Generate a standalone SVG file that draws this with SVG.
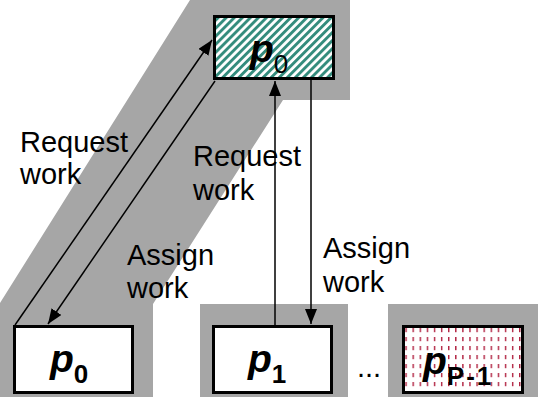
<svg xmlns="http://www.w3.org/2000/svg" width="538" height="416" viewBox="0 0 538 416">
<style>
.bg{fill:#a6a6a6;stroke:none}
.box{stroke:#000;stroke-width:3}
.lbl{font-family:"Liberation Sans",Arial,sans-serif;font-size:29px;fill:#000}
.pn{font-family:"Liberation Sans",Arial,sans-serif;font-size:39px;font-weight:bold;font-style:italic;fill:#000}
.sub{font-size:26px;font-style:normal}
.conn{stroke:#000;stroke-width:1.5;fill:none;marker-end:url(#ah)}
</style>
<defs>
<pattern id="stripes" patternUnits="userSpaceOnUse" width="5.7" height="10" patternTransform="rotate(45)">
<rect width="5.7" height="10" fill="#fff"/>
<rect width="2.9" height="10" fill="#348c7d"/>
</pattern>
<pattern id="dashes" patternUnits="userSpaceOnUse" x="405.4" y="328" width="7.1" height="9">
<rect width="7.1" height="9" fill="#fff"/>
<rect x="0" y="0" width="1.4" height="4.2" fill="#b0203f"/>
</pattern>
<marker id="ah" markerUnits="userSpaceOnUse" markerWidth="15" markerHeight="12" refX="15" refY="6" orient="auto">
<path d="M0,0 L15,6 L0,12 Z" fill="#000"/>
</marker>
</defs>
<g id="shading">
<polygon class="bg" points="190,0 350,0 350,100 283,100 153,304 153,397 0,397 0,303"/>
<rect class="bg" x="200" y="304" width="148" height="93"/>
<rect class="bg" x="388" y="304" width="150" height="93"/>
</g>
<g id="node-top-p0">
<rect class="box" x="214.5" y="16.5" width="119" height="62" fill="url(#stripes)"/>
<text class="pn" x="250" y="62">p<tspan class="sub" font-weight="normal" y="73">0</tspan></text>
</g>
<g id="node-p0">
<rect class="box" x="14.5" y="326.5" width="118" height="66" fill="#fff"/>
<text class="pn" x="50" y="372">p<tspan class="sub" y="383">0</tspan></text>
</g>
<g id="node-p1">
<rect class="box" x="213.5" y="326.5" width="118" height="66" fill="#fff"/>
<text class="pn" x="248" y="372">p<tspan class="sub" y="383">1</tspan></text>
</g>
<g id="node-pP-1">
<rect class="box" x="403.5" y="326.5" width="119" height="66" fill="url(#dashes)"/>
<text class="pn" x="423" y="374">p<tspan class="sub" y="385" letter-spacing="2">P-1</tspan></text>
</g>
<g id="connectors">
<line class="conn" x1="15" y1="325" x2="212" y2="40"/>
<line class="conn" x1="215" y1="81" x2="48" y2="324"/>
<line class="conn" x1="275" y1="325" x2="275" y2="81"/>
<line class="conn" x1="311" y1="80" x2="311" y2="324"/>
</g>
<g id="labels">
<text class="lbl" x="20" y="152">Request</text>
<text class="lbl" x="20" y="184">work</text>
<text class="lbl" x="193" y="166">Request</text>
<text class="lbl" x="193" y="200">work</text>
<text class="lbl" x="127" y="265">Assign</text>
<text class="lbl" x="127" y="298">work</text>
<text class="lbl" x="323" y="258">Assign</text>
<text class="lbl" x="323" y="292">work</text>
<text class="lbl" x="357" y="377" font-size="22">...</text>
</g>
</svg>
